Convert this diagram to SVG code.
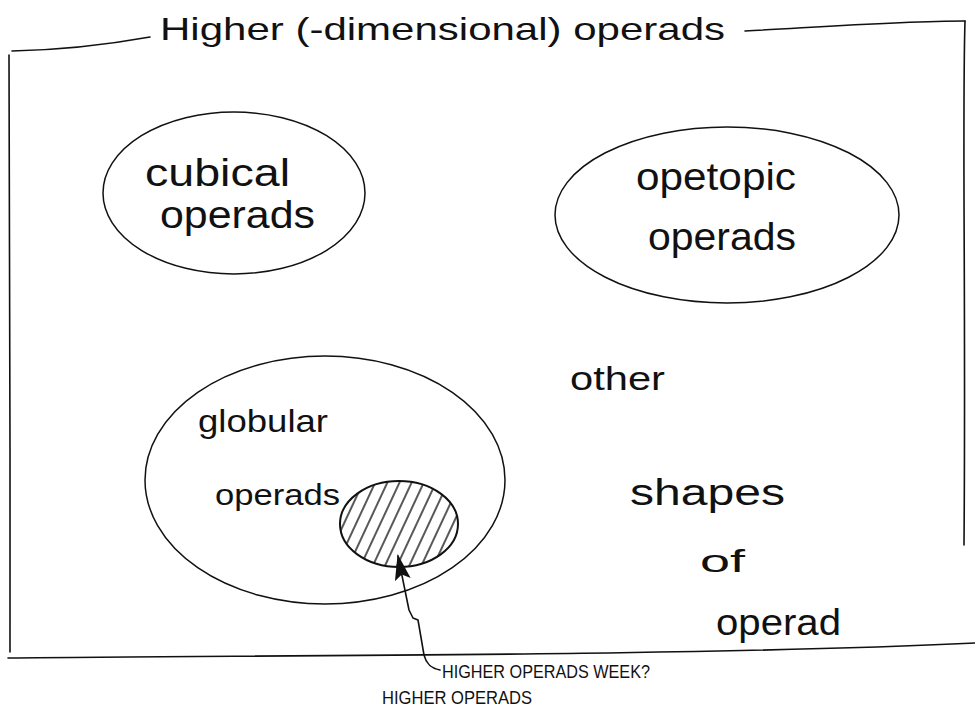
<svg xmlns="http://www.w3.org/2000/svg" width="975" height="708" viewBox="0 0 975 708">
<style>
.ln{fill:none;stroke:#111;stroke-width:1.6;stroke-linecap:round;stroke-linejoin:round}
.el{fill:none;stroke:#111;stroke-width:1.5}
.hw{font-family:"Liberation Sans",Arial,sans-serif;fill:#111;font-weight:normal}
.cap{font-family:"Liberation Sans",Arial,sans-serif;fill:#111;font-size:19px}
</style>
<defs>
<pattern id="hatch" patternUnits="userSpaceOnUse" width="11" height="11" patternTransform="rotate(25)">
<line x1="5" y1="0" x2="5" y2="11" stroke="#111" stroke-width="1.4"/>
</pattern>
<marker id="ah" viewBox="0 0 26 16" refX="24" refY="8" markerWidth="26" markerHeight="16" orient="auto" markerUnits="userSpaceOnUse">
<path d="M0,0 L26,8 L0,16 L5,8 Z" fill="#111"/>
</marker>
</defs>
<rect width="975" height="708" fill="#fff"/>
<g id="frame">
<path class="ln" d="M12,51 C60,50 100,46 150,37"/>
<path class="ln" d="M745,31 C820,27 900,21 965,21"/>
<path class="ln" d="M965,21 C962,120 966,300 964,545"/>
<path class="ln" d="M9,55 C8,200 11,450 10,652"/>
<path class="ln" d="M8,658 C300,655 700,656 975,643"/>
<text class="hw" x="160" y="40" font-size="32" textLength="565" lengthAdjust="spacingAndGlyphs">Higher (-dimensional) operads</text>
</g>
<g id="cubical">
<ellipse class="el" cx="234" cy="193" rx="131" ry="81"/>
<text class="hw" x="145" y="186" font-size="38" textLength="145" lengthAdjust="spacingAndGlyphs">cubical</text>
<text class="hw" x="160" y="228" font-size="38" textLength="155" lengthAdjust="spacingAndGlyphs">operads</text>
</g>
<g id="opetopic">
<ellipse class="el" cx="727" cy="215" rx="172" ry="88"/>
<text class="hw" x="636" y="190" font-size="38" textLength="160" lengthAdjust="spacingAndGlyphs">opetopic</text>
<text class="hw" x="648" y="250" font-size="38" textLength="148" lengthAdjust="spacingAndGlyphs">operads</text>
</g>
<g id="globular">
<ellipse class="el" cx="325" cy="480" rx="180" ry="124"/>
<text class="hw" x="198" y="432" font-size="32" textLength="130" lengthAdjust="spacingAndGlyphs">globular</text>
<text class="hw" x="215" y="505" font-size="30" textLength="125" lengthAdjust="spacingAndGlyphs">operads</text>
</g>
<g id="higher-operads">
<ellipse cx="399" cy="524" rx="59" ry="43" fill="url(#hatch)" stroke="#111" stroke-width="2"/>
</g>
<g id="other-shapes">
<text class="hw" x="570" y="390" font-size="34" textLength="95" lengthAdjust="spacingAndGlyphs">other</text>
<text class="hw" x="630" y="505" font-size="36" textLength="155" lengthAdjust="spacingAndGlyphs">shapes</text>
<text class="hw" x="700" y="572" font-size="32" textLength="45" lengthAdjust="spacingAndGlyphs">of</text>
<text class="hw" x="716" y="635" font-size="36" textLength="125" lengthAdjust="spacingAndGlyphs">operad</text>
</g>
<g id="connectors">
<path class="ln" stroke-width="2" marker-end="url(#ah)" d="M440,670 C430,668 426,663 424,655 L418,620 L413,618 L409,610 L398,556"/>
</g>
<g id="note">
<text class="cap" x="442" y="678" textLength="208" lengthAdjust="spacingAndGlyphs">HIGHER OPERADS WEEK?</text>
<text class="cap" x="382" y="704" font-size="16" textLength="150" lengthAdjust="spacingAndGlyphs">HIGHER OPERADS</text>
</g>
</svg>
